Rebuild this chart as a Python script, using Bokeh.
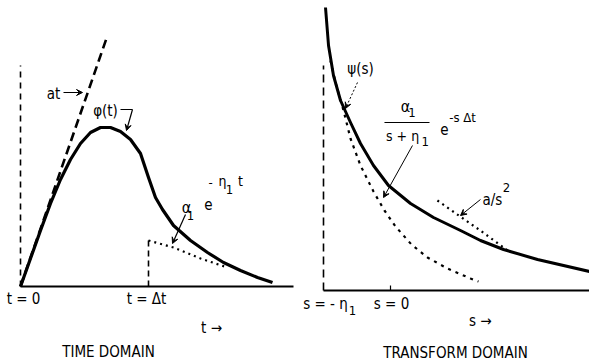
from bokeh.plotting import figure
from bokeh.layouts import row
from bokeh.models import Range1d, Arrow, VeeHead
from bokeh.core.properties import value
from bokeh.embed import file_html
from bokeh.resources import INLINE

FONT = "'DejaVu Sans Condensed', 'Liberation Sans', sans-serif"

# ---------------- TIME DOMAIN data ----------------
phi_t = [0, 1, 2, 3, 4, 5, 6, 7, 8, 9, 10, 11, 12, 12.8, 13.5, 14.2, 15.3, 17, 18.7, 20.3, 22, 23.7, 25.2]
phi_v = [0, 2.8, 5.6, 8.3, 10.7, 12.7, 14.3, 15.4, 15.9, 15.9, 15.5, 14.7, 13.3, 10.9, 8.9, 7.7, 6.1, 4.6, 3.4, 2.4, 1.6, 0.9, 0.4]
at_t = [0, 8.7]
at_v = [0, 25.1]
t0_line_v = [0, 22.1]
dt = 12.8
exp_t = [12.8, 15.3, 18.0, 20.7]
exp_v = [4.6, 3.9, 2.8, 1.9]
t_axis_end = 27.3
t_tick_pos = [0.3, 12.6]
t_tick_labels = ["t = 0", "t = Δt"]

# ---------------- TRANSFORM DOMAIN data ----------------
psi_s = [-0.970, -0.925, -0.851, -0.746, -0.597, -0.448, -0.254, -0.030, 0.299, 0.642, 1.045, 1.343, 1.687, 2.194, 2.970]
psi_v = [28.3, 24.5, 21.5, 19.0, 16.8, 14.7, 12.5, 10.5, 8.7, 7.3, 6.0, 5.0, 4.1, 3.1, 1.9]
tr_s = [-0.896, -0.821, -0.701, -0.597, -0.448, -0.254, -0.090, 0.075, 0.313, 0.552, 0.851, 1.194, 1.313]
tr_v = [23.0, 20.8, 18.0, 15.2, 12.5, 9.9, 8.0, 6.4, 4.6, 3.3, 2.2, 1.2, 0.9]
as2_s = [0.70, 1.04, 1.34, 1.75]
as2_v = [9.0, 7.4, 6.0, 4.0]
eta1 = -1.0
s_line_v = [0, 22.5]
s_axis_end = 2.97


def make_fig(w, xr, yr):
    p = figure(width=w, height=364, x_range=Range1d(*xr), y_range=Range1d(*yr),
               output_backend="svg", toolbar_location=None, min_border=0)
    p.axis.visible = False
    p.grid.visible = False
    p.outline_line_color = None
    p.background_fill_color = "white"
    p.border_fill_color = "white"
    return p


def txt(p, x, y, s, size=14, align="center", baseline="middle"):
    p.text(x=[x], y=[y], text=[s], text_font=value(FONT), text_font_size=f"{size}px",
           text_align=align, text_baseline=baseline, text_color="black")


def arrow(p, x0, y0, x1, y1, dash="solid", w=1.2):
    p.add_layout(Arrow(end=VeeHead(size=6, fill_color="black", line_color="black", line_width=1),
                       x_start=x0, y_start=y0, x_end=x1, y_end=y1,
                       line_width=w, line_color="black", line_dash=dash))


# ---------------- left panel ----------------
p1 = make_fig(294, (-2.0, 27.4), (-7.8, 28.6))
p1.line([0, t_axis_end], [0, 0], line_width=1.8, color="black")
p1.line([0, 0], t0_line_v, line_width=1.6, color="black", line_dash="6 5")
p1.line(at_t, at_v, line_width=2.6, color="black", line_dash="9 5")
p1.line(phi_t, phi_v, line_width=3.2, color="black", line_join="round")
p1.line([dt, dt], [0, exp_v[0]], line_width=1.6, color="black", line_dash="6 4")
p1.line(exp_t, exp_v, line_width=2.2, color="black", line_dash="2 4")

txt(p1, 3.3, 19.3, "at", 15)
arrow(p1, 4.3, 19.4, 6.2, 19.4)
txt(p1, 8.5, 17.6, "φ(t)", 15)
p1.line([10.0, 11.2], [17.7, 17.7], line_width=1.2, color="black")
arrow(p1, 11.2, 17.7, 10.6, 15.6)
txt(p1, 16.6, 7.9, "α", 16)
txt(p1, 17.0, 7.1, "1", 13)
txt(p1, 18.8, 8.3, "e", 15)
txt(p1, 19.0, 10.4, "-", 13)
txt(p1, 20.2, 10.6, "η", 14)
txt(p1, 20.9, 9.7, "1", 13)
txt(p1, 22.0, 10.6, "t", 14)
arrow(p1, 16.5, 7.2, 15.2, 4.3)
for pos, lab in zip(t_tick_pos, t_tick_labels):
    txt(p1, pos, -1.2, lab, 15)
txt(p1, 19.1, -4.1, "t →", 15)
txt(p1, 8.8, -6.5, "TIME DOMAIN", 15)

# ---------------- right panel ----------------
p2 = make_fig(295, (-1.4328, 2.9701), (-7.4, 29.0))
p2.line([eta1, s_axis_end], [0, 0], line_width=1.8, color="black")
p2.line([0, 0], [0, 0.5], line_width=1.2, color="black")
p2.line([eta1, eta1], s_line_v, line_width=1.6, color="black", line_dash="8 5")
p2.line(psi_s, psi_v, line_width=3.0, color="black", line_join="round")
p2.line(tr_s, tr_v, line_width=2.2, color="black", line_dash="3 5")
p2.line(as2_s, as2_v, line_width=2.2, color="black", line_dash="2 4")

txt(p2, -0.448, 22.2, "ψ(s)", 15)
arrow(p2, -0.493, 20.8, -0.672, 18.2, dash="2 2", w=1.0)
txt(p2, 0.224, 18.4, "α", 16)
txt(p2, 0.32, 17.8, "1", 13)
p2.line([-0.09, 0.582], [16.8, 16.8], line_width=1.2, color="black")
txt(p2, 0.18, 15.5, "s + η", 14)
txt(p2, 0.52, 14.9, "1", 13)
txt(p2, 0.806, 16.2, "e", 15)
txt(p2, 1.075, 17.3, "-s Δt", 13)
arrow(p2, 0.328, 14.5, -0.104, 9.3, w=1.0)
txt(p2, 1.522, 9.1, "a/s", 15)
txt(p2, 1.731, 10.3, "2", 13)
arrow(p2, 1.343, 9.1, 1.045, 7.5, w=1.0)
txt(p2, -0.97, -1.3, "s = - η", 15)
txt(p2, -0.567, -2.0, "1", 13)
txt(p2, 0.015, -1.3, "s = 0", 15)
txt(p2, 1.34, -3.0, "s →", 15)
txt(p2, 0.97, -6.2, "TRANSFORM DOMAIN", 15)

layout = row(p1, p2)
open("out.html", "w").write(file_html(layout, INLINE))
